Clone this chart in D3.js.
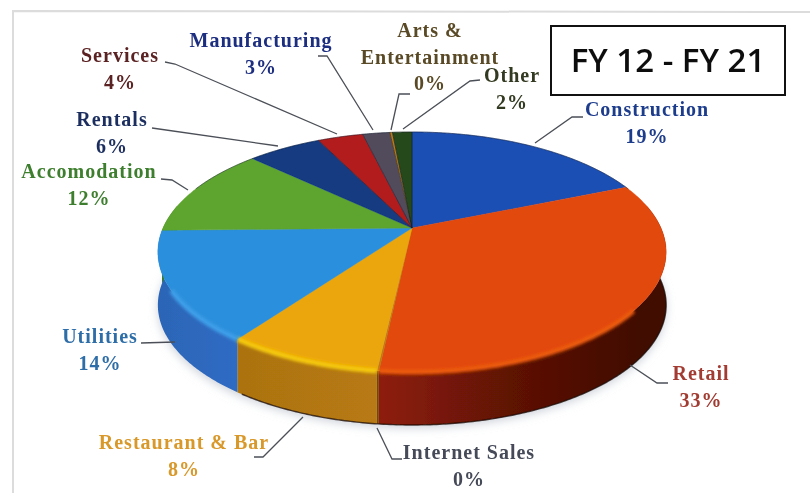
<!DOCTYPE html>
<html><head><meta charset="utf-8">
<script src="https://cdn.jsdelivr.net/npm/d3@7"></script>
<style>html,body{margin:0;padding:0;background:#fff}svg{display:block}</style>
</head><body><svg id="c" width="810" height="493"></svg>
<script>
// Data
const categories=["Construction","Retail","Internet Sales","Restaurant & Bar","Utilities","Accomodation","Rentals","Services","Manufacturing","Arts & Entertainment","Other"];
const shares=[18.8,32.9,0.1,8.2,14.7,12.3,5.7,3.5,2.1,0.2,1.5];
const percentLabels=["19%","33%","0%","8%","14%","12%","6%","4%","3%","0%","2%"];
const title="FY 12 - FY 21";
// Styling
const topColors=["#1d4fb4","#e2480c","#c07a10","#eca608","#2b8fdc","#5da52e","#123a80","#b21c1c","#514b5c","#c07a10","#26481c"];
const wallColors=["#12307a","#8a1c06","#7a4a08","#b87a12","#2f6cc4","#3a7a20","#0c2a60","#801414","#3a3644","#7a4a08","#18300f"];
const rimColors=["#3a70d8","#ea5a0e","#d89a20","#f4c80c","#3c9ee8","#78c040","#2a55a0","#d03030","#6a6478","#d89a20","#3a6a2a"];
const textColors=["#1f3c8c","#a23a30","#454a58","#d8982a","#2f6ea8","#3e7f2e","#1c2f5e","#5a2222","#1f2f80","#5a4a25","#333a20"];
// Layout: label x, first baseline y, lines, leader polyline
const layout=[
 {x:647,y:116,lines:["Construction"],leader:[[535,143],[572,117],[583,117]]},
 {x:701,y:380,lines:["Retail"],leader:[[630,365],[657,383],[668,383]]},
 {x:469,y:459,lines:["Internet Sales"],leader:[[377,428],[392,459],[402,459]]},
 {x:184,y:449,lines:["Restaurant & Bar"],leader:[[303,417],[263,457],[254,457]]},
 {x:100,y:343,lines:["Utilities"],leader:[[175,342],[141,343]]},
 {x:89,y:178,lines:["Accomodation"],leader:[[188,190],[172,180],[161,179]]},
 {x:112,y:126,lines:["Rentals"],leader:[[278,146],[152,128]]},
 {x:120,y:62,lines:["Services"],leader:[[337,134],[175,64],[165,62]]},
 {x:261,y:47,lines:["Manufacturing"],leader:[[373,130],[327,56],[318,56]]},
 {x:430,y:37,lines:["Arts &","Entertainment"],leader:[[391,130],[399,94],[410,94]]},
 {x:512,y:82,lines:["Other"],leader:[[403,129],[470,81],[480,80]]}
];
const svg=d3.select("#c");
const defs=svg.append("defs");
const blur=(id,s)=>defs.append("filter").attr("id",id).attr("x","-20%").attr("y","-20%").attr("width","140%").attr("height","140%").append("feGaussianBlur").attr("stdDeviation",s);
blur("scan",0.55);blur("soft",1.6);blur("shadow",5);

// Perspective projection of the disc
const cx=412,cy=228,k=0.2,depth=53;
const xS=d3.scaleLinear().domain([-1,1]).range([cx-249,cx+249]);
const yS=d3.scaleLinear().domain([-1,1]).range([cy+115.2,cy-115.2]);
const proj=a=>{const u=Math.sin(a),v=Math.cos(a),w=1+k*v;return [xS(u/w),yS(v/w)];};
const arcs=d3.pie().sort(null).value(d=>d)(shares);
const pts=(a0,a1)=>{const n=Math.max(2,Math.ceil((a1-a0)/0.01));return d3.range(n+1).map(i=>proj(a0+(a1-a0)*i/n));};
const line=d3.line();

// page frame (faint scan edges)
svg.append("path").attr("d",d3.line()([[810,12],[13,11],[13,493]])).attr("fill","none").attr("stroke","#dcdcdc").attr("stroke-width",2).attr("filter","url(#scan)");

const g=svg.append("g").attr("filter","url(#scan)");
// soft shadow
g.append("path").attr("d",line(pts(0,Math.PI*2).map(p=>[p[0],p[1]+depth+3]))+"Z").attr("fill","#cdd2da").attr("filter","url(#shadow)");

// walls (front only)
const frontA=Math.PI*0.5-Math.asin(k), frontB=Math.PI*1.5+Math.asin(k);
arcs.forEach((d,i)=>{
  const a0=Math.max(d.startAngle,frontA),a1=Math.min(d.endAngle,frontB);
  if(a1<=a0)return;
  const id="wg"+i,up=pts(a0,a1),lo=up.map(p=>[p[0],p[1]+depth]).reverse();
  const lg=defs.append("linearGradient").attr("id",id).attr("gradientUnits","userSpaceOnUse")
    .attr("x1",up[0][0]).attr("x2",up[up.length-1][0]).attr("y1",0).attr("y2",0);
  const base=d3.color(wallColors[i]);
  if(i===1){lg.append("stop").attr("offset",0).attr("stop-color","#3f0a04");lg.append("stop").attr("offset",0.5).attr("stop-color","#5e1206");lg.append("stop").attr("offset",1).attr("stop-color","#8e1e08");}
  else{lg.append("stop").attr("offset",0).attr("stop-color",base);lg.append("stop").attr("offset",1).attr("stop-color",base.darker(0.2));}
  g.append("path").attr("d",line(up.concat(lo))+"Z").attr("fill","url(#"+id+")");
});
// bottom dark edge (right and front only)
g.append("path").attr("d",line(pts(frontA+0.05,3.75).map(p=>[p[0],p[1]+depth]))).attr("fill","none").attr("stroke","#1a0a06").attr("stroke-opacity",0.75).attr("stroke-width",1.4);
// top faces
arcs.forEach((d,i)=>{
  const p=[[cx,cy]].concat(pts(d.startAngle,d.endAngle));
  g.append("path").attr("d",line(p)+"Z").attr("fill",topColors[i]).attr("stroke",topColors[i]).attr("stroke-width",0.4);
});
// bevel rim, front only
arcs.forEach((d,i)=>{
  const a0=Math.max(d.startAngle,2.25),a1=Math.min(d.endAngle,4.2);
  if(a1<=a0)return;
  g.append("path").attr("d",line(pts(a0,a1)))
   .attr("fill","none").attr("stroke",rimColors[i]).attr("stroke-width",5).attr("filter","url(#soft)");
});
// dark separators between back slices
arcs.slice(6).forEach(d=>{
  g.append("path").attr("d",line([[cx,cy],proj(d.endAngle)])).attr("stroke","#0c1a30").attr("stroke-opacity",0.6).attr("stroke-width",0.9);
});
// back edge line
g.append("path").attr("d",line(pts(-1.2,1.2))).attr("fill","none").attr("stroke","#10182a").attr("stroke-opacity",0.55).attr("stroke-width",0.9);

// leaders
layout.forEach(l=>{
  g.append("path").attr("d",line(l.leader)).attr("fill","none").attr("stroke","#4c5058").attr("stroke-width",1.3);
});
// labels
const labels=g.append("g").attr("font-family","'Liberation Serif',serif").attr("font-weight","700").attr("font-size",20).attr("letter-spacing",1).attr("text-anchor","middle");
layout.forEach((l,i)=>{
  const t=l.lines.concat(percentLabels[i]);
  t.forEach((s,j)=>labels.append("text").attr("x",l.x).attr("y",l.y+j*26.5).attr("fill",textColors[i]).text(s));
});
// title box
svg.append("rect").attr("x",551).attr("y",26).attr("width",234).attr("height",69).attr("fill","#fff").attr("stroke","#111").attr("stroke-width",2);
svg.append("text").attr("x",668).attr("y",72).attr("text-anchor","middle").attr("font-family","'Open Sans',sans-serif").attr("font-weight",600).attr("font-size",33).attr("fill","#111").attr("filter","url(#scan)").text(title);
</script></body></html>
